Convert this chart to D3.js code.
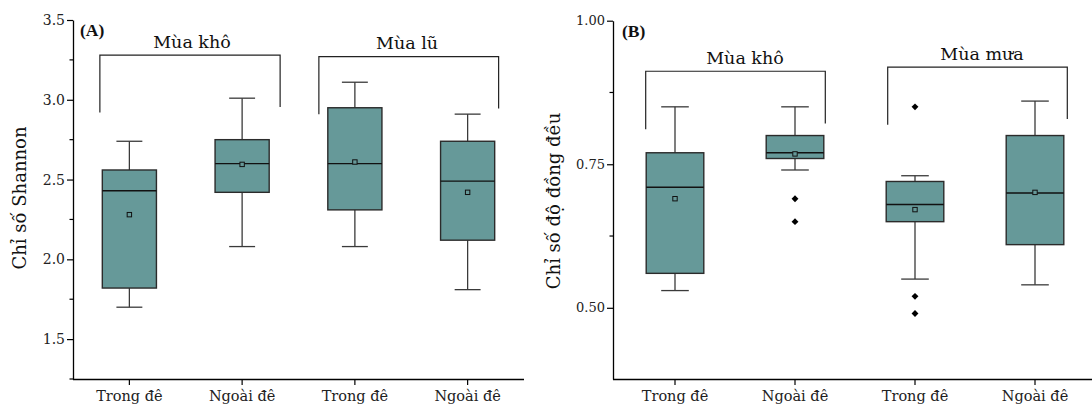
<!DOCTYPE html>
<html><head><meta charset="utf-8">
<script src="https://cdn.jsdelivr.net/npm/d3@7"></script>
<style>
body{margin:0;background:#fff;}
svg{display:block;font-family:"DejaVu Serif",serif;}
</style></head>
<body><svg id="c" width="1092" height="406"></svg>
<script>
// ---------- data ----------
const groups = ["Trong đê", "Ngoài đê", "Trong đê", "Ngoài đê"];

// Panel A: Shannon index
const shMin    = [1.70, 2.08, 2.08, 1.81];
const shQ1     = [1.82, 2.42, 2.31, 2.12];
const shMedian = [2.43, 2.60, 2.60, 2.49];
const shQ3     = [2.56, 2.75, 2.95, 2.74];
const shMax    = [2.74, 3.01, 3.11, 2.91];
const shMean   = [2.28, 2.595, 2.61, 2.42];
const shOutliers = [[], [], [], []];
const shTicks = [1.5, 2.0, 2.5, 3.0, 3.5];
const shSeasons = ["Mùa khô", "Mùa lũ"];

// Panel B: evenness index
const evMin    = [0.53, 0.74, 0.55, 0.54];
const evQ1     = [0.56, 0.76, 0.65, 0.61];
const evMedian = [0.71, 0.77, 0.68, 0.70];
const evQ3     = [0.77, 0.80, 0.72, 0.80];
const evMax    = [0.85, 0.85, 0.73, 0.86];
const evMean   = [0.69, 0.768, 0.671, 0.701];
const evOutliers = [[], [0.69, 0.65], [0.85, 0.52, 0.49], []];
const evTicks = [0.50, 0.75, 1.00];
const evSeasons = ["Mùa khô", "Mùa mưa"];

// ---------- drawing ----------
const svg = d3.select("#c");
const FILL = "#669999", STROKE = "#2b2b2b";

function panel(cfg) {
  const g = svg.append("g");
  const x = d3.scaleBand().domain(d3.range(groups.length)).range(cfg.xr).padding(0);
  const y = d3.scaleLinear().domain(cfg.yd).range([cfg.yb, cfg.yt]);
  const bw = x.bandwidth() * 0.48, cw = x.bandwidth() * 0.23;
  const cx = i => x(i) + x.bandwidth() / 2;

  // y axis
  const ya = g.append("g").attr("transform", `translate(${cfg.ax},0)`)
    .call(d3.axisLeft(y).tickValues(cfg.ticks).tickFormat(cfg.fmt).tickSize(6).tickSizeOuter(0));
  ya.select(".domain").attr("stroke", "#000").attr("stroke-width", 1.3);
  ya.selectAll(".tick line").attr("stroke", "#000").attr("stroke-width", 1.2);
  ya.selectAll("text").attr("font-family", "DejaVu Serif").attr("font-size", cfg.tfs).attr("fill", "#222").attr("x", -8);
  g.append("g").selectAll("line").data(cfg.minor).join("line")
    .attr("x1", cfg.ax - 3.5).attr("x2", cfg.ax).attr("y1", d => y(d)).attr("y2", d => y(d))
    .attr("stroke", "#000").attr("stroke-width", 1.2);

  // x axis
  const xa = g.append("g").attr("transform", `translate(0,${cfg.yb})`)
    .call(d3.axisBottom(x).tickFormat(i => groups[i]).tickSize(6).tickSizeOuter(0));
  xa.select(".domain").attr("d", `M${cfg.ax},0.5H${cfg.xend}`).attr("stroke", "#000").attr("stroke-width", 1.3);
  xa.selectAll(".tick line").attr("stroke", "#000").attr("stroke-width", 1.2);
  xa.selectAll("text").attr("font-family", "DejaVu Serif").attr("font-size", 14.5).attr("fill", "#222")
    .attr("y", 22).attr("dy", 0);

  // y label
  g.append("text").attr("transform", `translate(${cfg.lx},${cfg.ly}) rotate(-90)`)
    .attr("text-anchor", "middle").attr("font-size", cfg.lfs).attr("fill", "#111").text(cfg.label);

  // panel tag
  g.append("text").attr("x", cfg.tagx).attr("y", cfg.tagy).attr("font-family", "Liberation Serif")
    .attr("font-weight", "bold").attr("font-size", 17.5).attr("fill", "#111").text(cfg.tag);

  const d = cfg.data;
  const b = g.append("g");
  groups.forEach((_, i) => {
    // whiskers
    b.append("line").attr("x1", cx(i)).attr("x2", cx(i)).attr("y1", y(d.max[i])).attr("y2", y(d.q3[i]))
      .attr("stroke", "#3a3a3a").attr("stroke-width", 1.3);
    b.append("line").attr("x1", cx(i)).attr("x2", cx(i)).attr("y1", y(d.q1[i])).attr("y2", y(d.min[i]))
      .attr("stroke", "#3a3a3a").attr("stroke-width", 1.3);
    [d.max[i], d.min[i]].forEach(v => b.append("line").attr("x1", cx(i) - cw / 2).attr("x2", cx(i) + cw / 2)
      .attr("y1", y(v)).attr("y2", y(v)).attr("stroke", "#3a3a3a").attr("stroke-width", 1.3));
    // box
    b.append("rect").attr("x", cx(i) - bw / 2).attr("width", bw).attr("y", y(d.q3[i]))
      .attr("height", y(d.q1[i]) - y(d.q3[i])).attr("fill", FILL).attr("stroke", STROKE).attr("stroke-width", 1.4);
    b.append("line").attr("x1", cx(i) - bw / 2).attr("x2", cx(i) + bw / 2).attr("y1", y(d.med[i])).attr("y2", y(d.med[i]))
      .attr("stroke", "#111").attr("stroke-width", 1.4);
    // mean
    b.append("rect").attr("x", cx(i) - 2.2).attr("y", y(d.mean[i]) - 2.2).attr("width", 4.4).attr("height", 4.4)
      .attr("fill", FILL).attr("stroke", "#111").attr("stroke-width", 1);
    // outliers
    b.selectAll(null).data(d.out[i]).join("path")
      .attr("d", d3.symbol(d3.symbolDiamond2, 30))
      .attr("transform", v => `translate(${cx(i)},${y(v)})`).attr("fill", "#000");
  });

  // season brackets
  cfg.brackets.forEach((br, k) => {
    const x1 = cx(br.a) + br.dl, x2 = cx(br.b) + br.dr;
    g.append("path").attr("d", `M${x1},${y(br.yl)}V${y(br.yh)}H${x2}V${y(br.yr)}`)
      .attr("fill", "none").attr("stroke", "#222").attr("stroke-width", 1.2);
    g.append("text").attr("x", br.tx).attr("y", br.ty).attr("text-anchor", "middle")
      .attr("font-size", 17.5).attr("fill", "#111").text(cfg.seasons[k]);
  });
}

panel({
  xr: [73, 524], xend: 524, ax: 73, yd: [1.25, 3.5], yb: 379, yt: 20,
  ticks: shTicks, minor: [1.25, 1.75, 2.25, 2.75, 3.25], fmt: d3.format(".1f"), tfs: 14,
  label: "Chỉ số Shannon", lx: 26, ly: 198, lfs: 18, tag: "(A)", tagx: 80, tagy: 36,
  data: { min: shMin, q1: shQ1, med: shMedian, q3: shQ3, max: shMax, mean: shMean, out: shOutliers },
  seasons: shSeasons,
  brackets: [
    { a: 0, b: 1, dl: -29.5, dr: 38, yl: 2.92, yh: 3.28, yr: 2.955, tx: 192, ty: 48 },
    { a: 2, b: 3, dl: -36, dr: 31, yl: 2.91, yh: 3.27, yr: 2.945, tx: 407, ty: 49 }
  ]
});

panel({
  xr: [615, 1095], xend: 1092, ax: 613, yd: [0.376, 1.0], yb: 379, yt: 20.7,
  ticks: evTicks, minor: [0.625, 0.875], fmt: d3.format(".2f"), tfs: 13,
  label: "Chỉ số độ đồng đều", lx: 560, ly: 201, lfs: 18, tag: "(B)", tagx: 622, tagy: 37,
  data: { min: evMin, q1: evQ1, med: evMedian, q3: evQ3, max: evMax, mean: evMean, out: evOutliers },
  seasons: evSeasons,
  brackets: [
    { a: 0, b: 1, dl: -29.3, dr: 30.3, yl: 0.811, yh: 0.912, yr: 0.821, tx: 745, ty: 64 },
    { a: 2, b: 3, dl: -27.3, dr: 32.3, yl: 0.819, yh: 0.919, yr: 0.829, tx: 982, ty: 60 }
  ]
});
</script></body></html>
